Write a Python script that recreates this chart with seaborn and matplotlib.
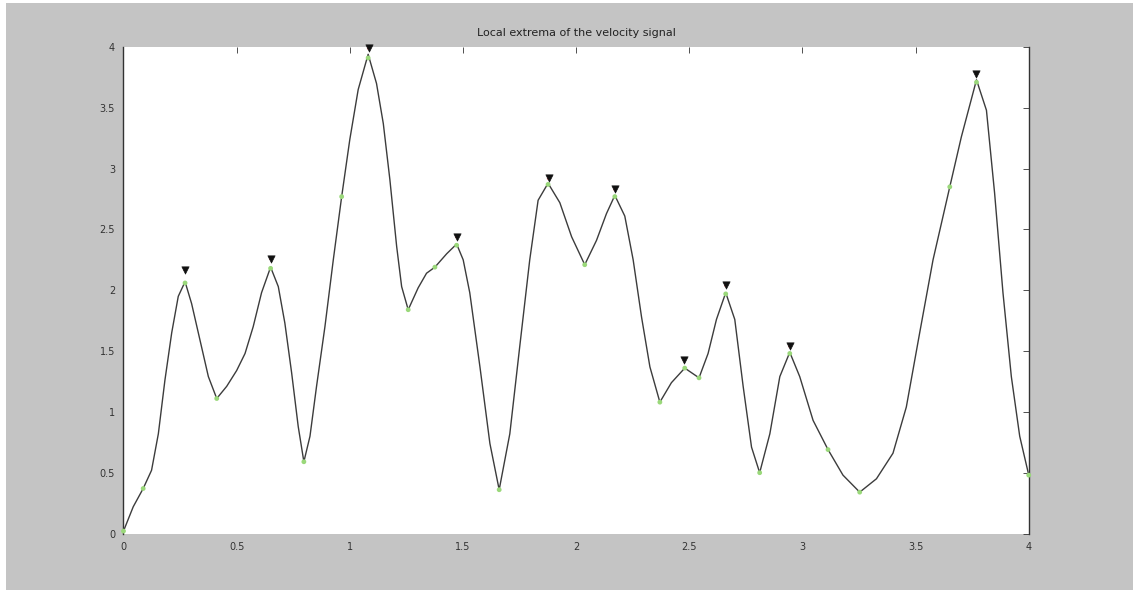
import numpy as np
import pandas as pd
import matplotlib
matplotlib.use("Agg")
import matplotlib.pyplot as plt
from matplotlib.patches import Rectangle
import seaborn as sns

# ── Data ─────────────────────────────────────────────────────────────────────
# velocity curve (dense trace of the smooth line)
curve_t = [0.0, 0.043, 0.087, 0.124, 0.154, 0.183, 0.213, 0.242, 0.272, 0.301,
           0.338, 0.375, 0.412, 0.456, 0.500, 0.537, 0.573, 0.610, 0.650, 0.684,
           0.713, 0.743, 0.772, 0.797, 0.824, 0.853, 0.890, 0.927, 0.964, 1.000,
           1.037, 1.081, 1.118, 1.148, 1.177, 1.207, 1.229, 1.258, 1.302, 1.339,
           1.376, 1.428, 1.472, 1.501, 1.530, 1.575, 1.619, 1.660, 1.707, 1.751,
           1.795, 1.832, 1.876, 1.928, 1.980, 2.038, 2.090, 2.134, 2.171, 2.215,
           2.252, 2.289, 2.326, 2.370, 2.421, 2.480, 2.543, 2.583, 2.620, 2.661,
           2.701, 2.738, 2.775, 2.811, 2.856, 2.900, 2.944, 2.988, 3.047, 3.113,
           3.179, 3.253, 3.327, 3.400, 3.459, 3.518, 3.577, 3.651, 3.702, 3.769,
           3.813, 3.849, 3.886, 3.923, 3.960, 4.0]
curve_v = [0.02, 0.22, 0.37, 0.52, 0.82, 1.26, 1.65, 1.95, 2.07, 1.89,
           1.59, 1.29, 1.11, 1.21, 1.34, 1.48, 1.70, 1.98, 2.19, 2.03,
           1.73, 1.32, 0.88, 0.59, 0.80, 1.21, 1.70, 2.25, 2.77, 3.24,
           3.65, 3.94, 3.70, 3.37, 2.91, 2.36, 2.03, 1.84, 2.02, 2.14,
           2.19, 2.30, 2.38, 2.25, 1.98, 1.37, 0.74, 0.36, 0.82, 1.54,
           2.25, 2.74, 2.88, 2.72, 2.44, 2.21, 2.41, 2.63, 2.78, 2.61,
           2.25, 1.78, 1.37, 1.08, 1.24, 1.36, 1.28, 1.48, 1.76, 1.98,
           1.76, 1.21, 0.71, 0.50, 0.82, 1.29, 1.49, 1.29, 0.93, 0.69,
           0.48, 0.34, 0.45, 0.66, 1.04, 1.65, 2.25, 2.85, 3.26, 3.73,
           3.48, 2.80, 1.98, 1.29, 0.80, 0.48]

# sample points (green)
sample_t = [0.0, 0.087, 0.272, 0.412, 0.650, 0.797, 0.964, 1.081, 1.258, 1.376,
            1.472, 1.660, 1.876, 2.038, 2.171, 2.370, 2.480, 2.543, 2.661, 2.811,
            2.944, 3.113, 3.253, 3.651, 3.769, 4.0]
sample_v = [0.02, 0.37, 2.06, 1.11, 2.18, 0.59, 2.77, 3.91, 1.84, 2.19,
            2.37, 0.36, 2.87, 2.21, 2.77, 1.08, 1.36, 1.28, 1.97, 0.50,
            1.48, 0.69, 0.34, 2.85, 3.71, 0.48]

# local maxima (black triangles)
max_t = [0.272, 0.650, 1.083, 1.472, 1.878, 2.171, 2.478, 2.661, 2.944, 3.769]
max_v = [2.17, 2.26, 3.99, 2.44, 2.92, 2.83, 1.43, 2.04, 1.54, 3.78]

curve = pd.DataFrame({"t": curve_t, "v": curve_v})
samples = pd.DataFrame({"t": sample_t, "v": sample_v})
maxima = pd.DataFrame({"t": max_t, "v": max_v})

# ── Style ────────────────────────────────────────────────────────────────────
sns.set_style("white")
plt.rcParams["font.family"] = ["DejaVu Sans"]

GRAY = "#c4c4c4"
fig = plt.figure(figsize=(11.33, 5.92), dpi=100, facecolor="white")
fig.patches.append(Rectangle((6 / 1133, 2 / 592), 1 - 6 / 1133, 1 - 5 / 592,
                             transform=fig.transFigure, facecolor=GRAY,
                             edgecolor="none", zorder=-10))
ax = fig.add_axes([0.109, 0.0988, 0.799, 0.8218])
ax.set_facecolor("white")

sns.lineplot(data=curve, x="t", y="v", sort=False, color="#3c3c3c",
             linewidth=1.0, ax=ax, zorder=2)
sns.scatterplot(data=samples, x="t", y="v", color="#9ad87a", s=12,
                edgecolor="none", ax=ax, zorder=3, clip_on=False)
sns.scatterplot(data=maxima, x="t", y="v", color="#e08080", s=6,
                edgecolor="none", ax=ax, zorder=3)
sns.scatterplot(data=maxima, x="t", y="v", marker="v", color="#111111", s=28,
                edgecolor="#111111", ax=ax, zorder=4, clip_on=False)

ax.set_xlim(0, 4)
ax.set_ylim(0, 4)
ticks = np.arange(0, 4.01, 0.5)
labels = ["0", "0.5", "1", "1.5", "2", "2.5", "3", "3.5", "4"]
ax.set_xticks(ticks)
ax.set_xticklabels(labels)
ax.set_yticks(ticks)
ax.set_yticklabels(labels)
ax.tick_params(direction="in", length=4, width=0.6, colors="#333333",
               labelsize=7, top=True, right=True, pad=6)
ax.set_xlabel("")
ax.set_ylabel("")
for side in ["left", "right"]:
    ax.spines[side].set_color("#333333")
    ax.spines[side].set_linewidth(1.0)
for side in ["top", "bottom"]:
    ax.spines[side].set_visible(False)

ax.set_title("Local extrema of the velocity signal", fontsize=8,
             color="#222222", pad=8)

fig.savefig("out.png", dpi=100, facecolor=fig.get_facecolor())
